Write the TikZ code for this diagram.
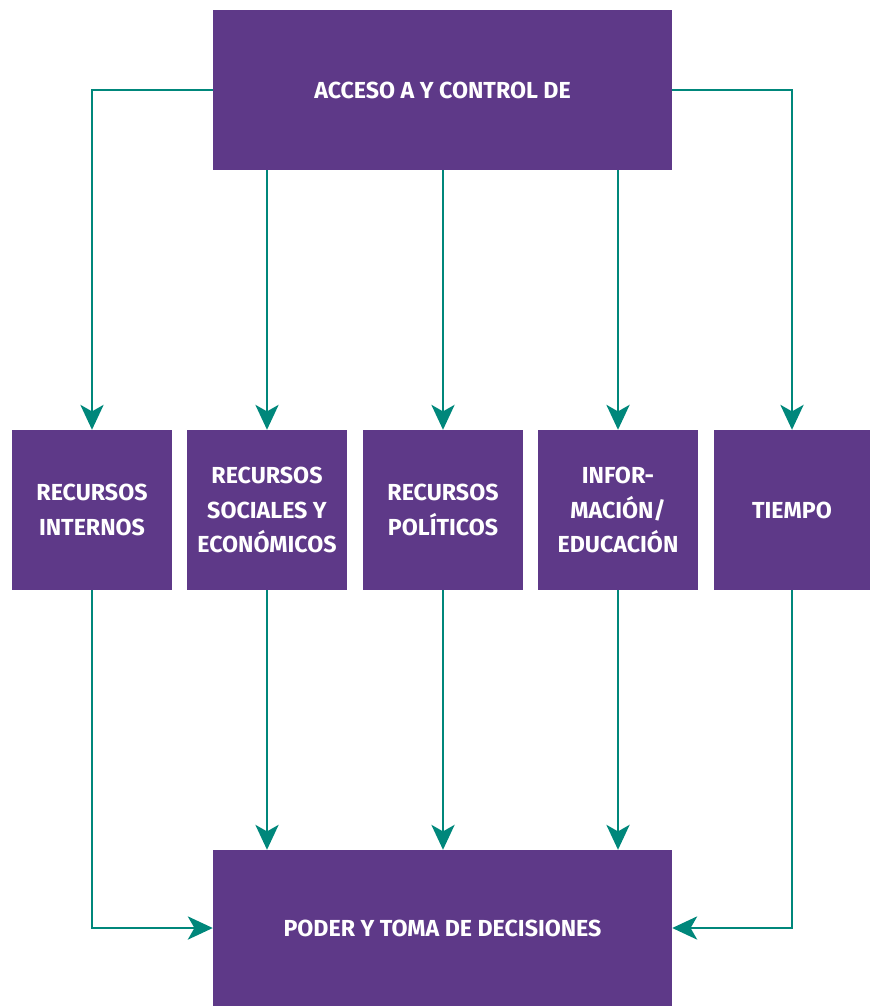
\documentclass[tikz,border=0pt]{standalone}
\usepackage{fontspec}
\setmainfont{Fira Sans}
\usetikzlibrary{arrows.meta}
\definecolor{morado}{HTML}{5E3988}
\definecolor{verde}{HTML}{00877B}
\tikzset{
    caja/.style={fill=morado,text=white,inner sep=0pt,align=center,font=\bfseries\fontsize{19.8}{29.8}\selectfont},
    flecha/.style={draw=verde,line width=0.04cm,-{Stealth[length=0.75cm,width=0.7cm,inset=0.2cm]}}
}
\begin{document}
\begin{tikzpicture}[x=0.03cm,y=-0.03cm]
            \useasboundingbox (0,0) rectangle (871,1006);
            \node[caja,minimum width=13.77cm,minimum height=4.8cm] (acceso) at (442.5,90) {ACCESO A Y CONTROL DE};
            \node[caja,minimum width=4.8cm,minimum height=4.8cm] (r1) at (92,510) {RECURSOS\\INTERNOS};
            \node[caja,minimum width=4.8cm,minimum height=4.8cm] (r2) at (267,510) {RECURSOS\\SOCIALES Y\\ECONÓMICOS};
            \node[caja,minimum width=4.8cm,minimum height=4.8cm] (r3) at (443,510) {RECURSOS\\POLÍTICOS};
            \node[caja,minimum width=4.8cm,minimum height=4.8cm] (r4) at (618,510) {INFOR-\\MACIÓN/\\EDUCACIÓN};
            \node[caja,minimum width=4.7cm,minimum height=4.8cm] (r5) at (792,510) {TIEMPO};
            \node[caja,minimum width=13.77cm,minimum height=4.68cm] (poder) at (442.5,928) {PODER Y TOMA DE DECISIONES};
            \draw[flecha] (acceso.west) -| (r1.north);
            \draw[flecha] (r2.north |- acceso.south) -- (r2.north);
            \draw[flecha] (r3.north |- acceso.south) -- (r3.north);
            \draw[flecha] (r4.north |- acceso.south) -- (r4.north);
            \draw[flecha] (acceso.east) -| (r5.north);
            \draw[flecha] (r1.south) |- (poder.west);
            \draw[flecha] (r2.south) -- (r2.south |- poder.north);
            \draw[flecha] (r3.south) -- (r3.south |- poder.north);
            \draw[flecha] (r4.south) -- (r4.south |- poder.north);
            \draw[flecha] (r5.south) |- (poder.east);
        \end{tikzpicture}
\end{document}
